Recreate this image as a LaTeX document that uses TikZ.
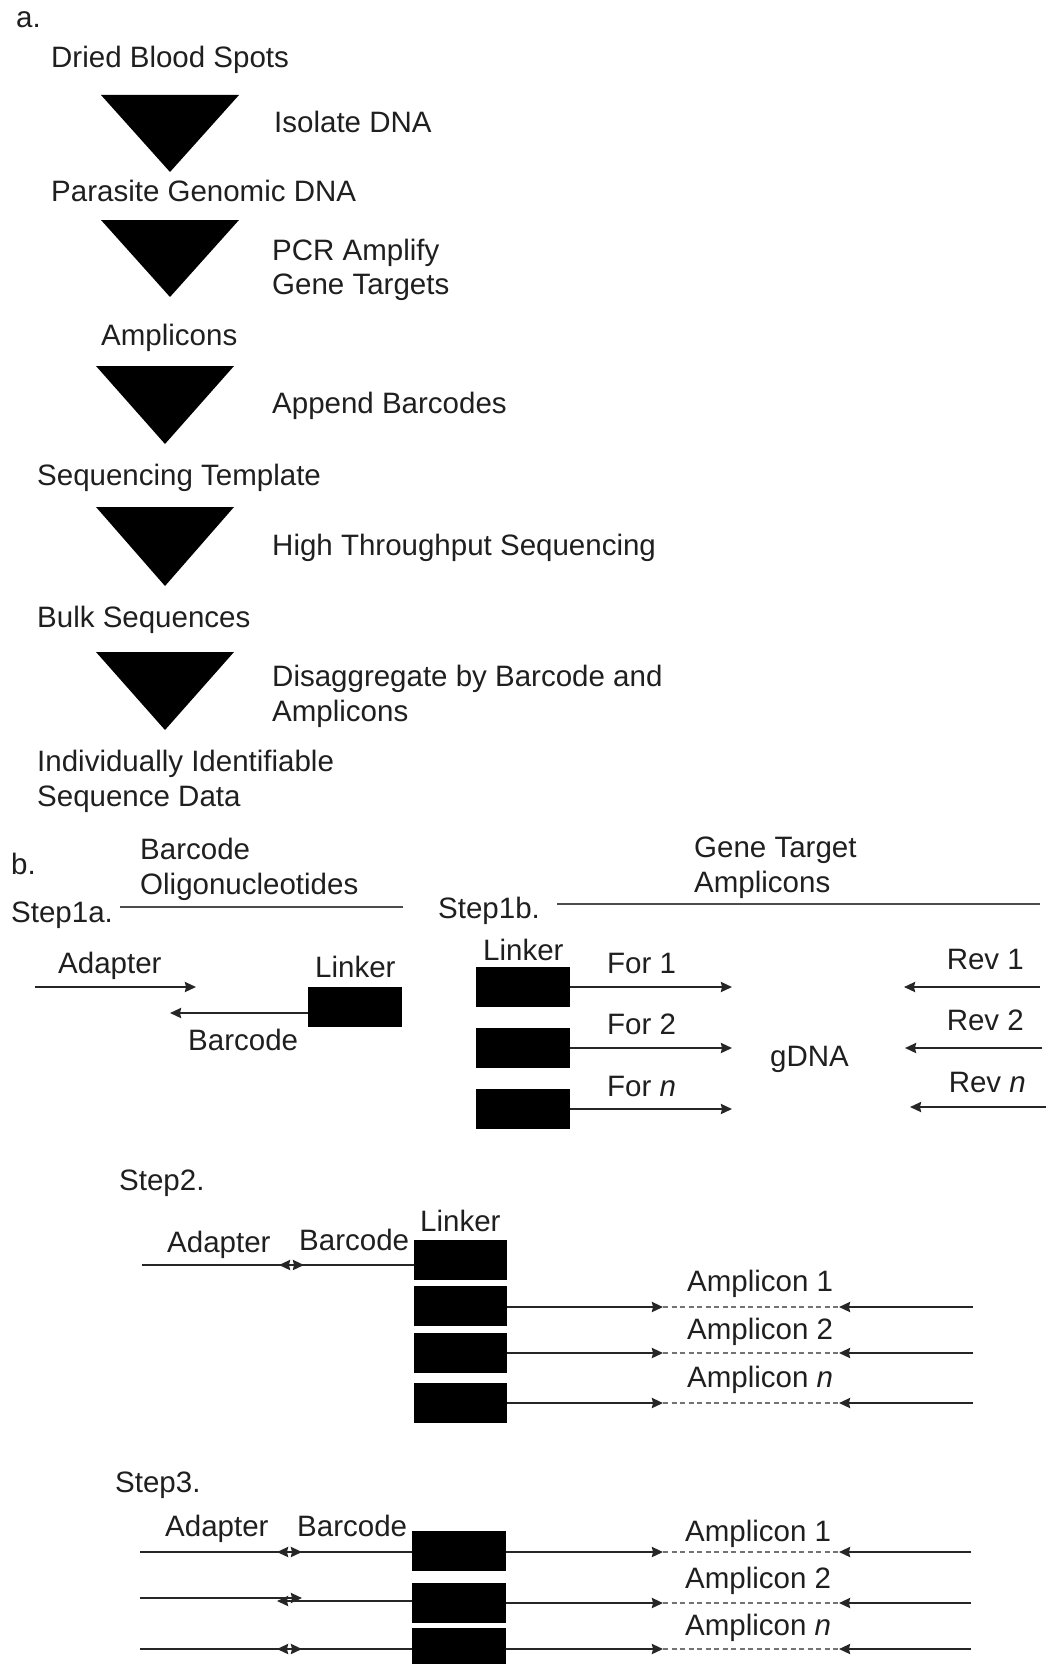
\documentclass[tikz,border=0pt]{standalone}
\usepackage{fontspec}
\setmainfont{Liberation Sans}
\usetikzlibrary{arrows.meta}

\tikzset{
  lbl/.style={anchor=base west, inner sep=0pt, text=black!88,
    font=\fontsize{29.5pt}{35pt}\selectfont},
  rlbl/.style={lbl, anchor=base east},
  blk/.style={fill=black, draw=none, inner sep=0pt, minimum width=94pt, minimum height=40pt},
  strand/.style={line width=2.2pt, draw=black!85},
  gap/.style={line width=1.5pt, draw=black!55, dash pattern=on 5pt off 3.5pt},
  rule/.style={line width=1.8pt, draw=black!70},
  >={Stealth[length=11pt,width=10pt,inset=1pt]}
}

\begin{document}
\begin{tikzpicture}[x=1pt,y=-1pt]
	\useasboundingbox (0,0) rectangle (1053,1664);
	
	% part a
	\node[lbl] (pa) at (16,28) {a.};
	\node[lbl] (dbs) at (51,68) {Dried Blood Spots};
	\fill[black] (101,95) -- (239,95) -- (170,172) -- cycle;
	\node[lbl] (iso) at (274,133) {Isolate DNA};
	\node[lbl] (pgd) at (51,201) {Parasite Genomic DNA};
	\fill[black] (101,220) -- (239,220) -- (170,297) -- cycle;
	\node[lbl] (pcr) at (272,260) {PCR Amplify};
	\node[lbl] (pcr2) at (272,294) {Gene Targets};
	\node[lbl] (amp) at (101,345) {Amplicons};
	\fill[black] (96,366) -- (234,366) -- (165,444) -- cycle;
	\node[lbl] (apb) at (272,413) {Append Barcodes};
	\node[lbl] (sqt) at (37,485) {Sequencing Template};
	\fill[black] (96,507) -- (234,507) -- (165,586) -- cycle;
	\node[lbl] (hts) at (272,555) {High Throughput Sequencing};
	\node[lbl] (bulk) at (37,627) {Bulk Sequences};
	\fill[black] (96,652) -- (234,652) -- (165,730) -- cycle;
	\node[lbl] (dis) at (272,686) {Disaggregate by Barcode and};
	\node[lbl] (dis2) at (272,721) {Amplicons};
	\node[lbl] (isd) at (37,771) {Individually Identifiable};
	\node[lbl] (isd2) at (37,806) {Sequence Data};
	
	% part b, step 1a
	\node[lbl] (pb) at (11,874) {b.};
	\node[lbl] (bo) at (140,859) {Barcode};
	\node[lbl] (bo2) at (140,894) {Oligonucleotides};
	\node[lbl] (s1a) at (11,922) {Step1a.};
	\coordinate (s1aL) at (120,907);
	\coordinate (s1aR) at (403,907);
	\draw[rule] (s1aL) -- (s1aR);
	
	\node[lbl] (ad1) at (58,973) {Adapter};
	\coordinate (ad1L) at (35,987);
	\coordinate (ad1R) at (196,987);
	\draw[strand,->] (ad1L) -- (ad1R);
	\node[lbl] (lk1lbl) at (315,977) {Linker};
	\node[blk] (lk1) at (355,1007) {};
	\coordinate (bc1L) at (170,1013);
	\draw[strand,->] (lk1.west |- bc1L) -- (bc1L);
	\node[lbl] (bc1) at (188,1050) {Barcode};
	
	% step 1b
	\node[lbl] (s1b) at (438,918) {Step1b.};
	\coordinate (s1bL) at (557,904);
	\coordinate (s1bR) at (1040,904);
	\draw[rule] (s1bL) -- (s1bR);
	\node[lbl] (gta) at (694,857) {Gene Target};
	\node[lbl] (gta2) at (694,892) {Amplicons};
	
	\node[lbl] (lk2lbl) at (483,960) {Linker};
	\node[blk] (f1) at (523,987) {};
	\node[blk] (f2) at (523,1048) {};
	\node[blk] (f3) at (523,1109) {};
	\coordinate (f1e) at (732,987);
	\coordinate (f2e) at (732,1048);
	\coordinate (f3e) at (732,1109);
	\draw[strand,->] (f1.east) -- (f1e);
	\draw[strand,->] (f2.east) -- (f2e);
	\draw[strand,->] (f3.east) -- (f3e);
	\node[lbl] (for1) at (607,973) {For 1};
	\node[lbl] (for2) at (607,1034) {For 2};
	\node[lbl] (forn) at (607,1096) {For \textit{n}};
	
	\node[lbl] (gdna) at (770,1066) {gDNA};
	
	\node[rlbl] (rev1) at (1024,969) {Rev 1};
	\node[rlbl] (rev2) at (1024,1030) {Rev 2};
	\node[rlbl] (revn) at (1026,1092) {Rev \textit{n}};
	\coordinate (r1s) at (1040,987);  \coordinate (r1e) at (904,987);
	\coordinate (r2s) at (1042,1048); \coordinate (r2e) at (905,1048);
	\coordinate (r3s) at (1046,1107); \coordinate (r3e) at (910,1107);
	\draw[strand,->] (r1s) -- (r1e);
	\draw[strand,->] (r2s) -- (r2e);
	\draw[strand,->] (r3s) -- (r3e);
	
	% step 2
	\node[lbl] (s2) at (119,1190) {Step2.};
	\node[lbl] (ad2) at (167,1252) {Adapter};
	\node[lbl] (bc2) at (299,1250) {Barcode};
	\node[lbl] (lk3lbl) at (420,1231) {Linker};
	\node[blk, minimum width=93pt] (k20) at (460.5,1259.5) {};
	\node[blk, minimum width=93pt] (k21) at (460.5,1306) {};
	\node[blk, minimum width=93pt] (k22) at (460.5,1353) {};
	\node[blk, minimum width=93pt] (k23) at (460.5,1403) {};
	
	\coordinate (a2L) at (142,1265);
	\coordinate (a2R) at (304,1265);
	\coordinate (b2L) at (279,1265);
	\draw[strand,->] (a2L) -- (a2R);
	\draw[strand,->] (k20.west |- a2R) -- (b2L);
	
	\coordinate (p21) at (663,1307); \coordinate (q21) at (839,1307); \coordinate (e21) at (973,1307);
	\coordinate (p22) at (663,1353); \coordinate (q22) at (839,1353); \coordinate (e22) at (973,1353);
	\coordinate (p23) at (663,1403); \coordinate (q23) at (839,1403); \coordinate (e23) at (973,1403);
	\draw[strand,->] (k21.east |- p21) -- (p21);
	\draw[gap] (p21) -- (q21);
	\draw[strand,->] (e21) -- (q21);
	\draw[strand,->] (k22.east |- p22) -- (p22);
	\draw[gap] (p22) -- (q22);
	\draw[strand,->] (e22) -- (q22);
	\draw[strand,->] (k23.east |- p23) -- (p23);
	\draw[gap] (p23) -- (q23);
	\draw[strand,->] (e23) -- (q23);
	\node[lbl] (am21) at (687,1291) {Amplicon 1};
	\node[lbl] (am22) at (687,1339) {Amplicon 2};
	\node[lbl] (am23) at (687,1387) {Amplicon \textit{n}};
	
	% step 3
	\node[lbl] (s3) at (115,1492) {Step3.};
	\node[lbl] (ad3) at (165,1536) {Adapter};
	\node[lbl] (bc3) at (297,1536) {Barcode};
	\node[blk] (k31) at (459,1551) {};
	\node[blk] (k32) at (459,1602.5) {};
	\node[blk] (k33) at (459,1648) {};
	
	\coordinate (a31L) at (140,1552); \coordinate (a31R) at (302,1552); \coordinate (b31L) at (277,1552);
	\coordinate (a32L) at (140,1598); \coordinate (a32R) at (302,1598); \coordinate (b32L) at (277,1601);
	\coordinate (a33L) at (140,1649); \coordinate (a33R) at (302,1649); \coordinate (b33L) at (277,1649);
	\draw[strand,->] (a31L) -- (a31R);
	\draw[strand,->] (k31.west |- b31L) -- (b31L);
	\draw[strand,->] (a32L) -- (a32R);
	\draw[strand,->] (k32.west |- b32L) -- (b32L);
	\draw[strand,->] (a33L) -- (a33R);
	\draw[strand,->] (k33.west |- b33L) -- (b33L);
	
	\coordinate (p31) at (663,1552); \coordinate (q31) at (839,1552); \coordinate (e31) at (971,1552);
	\coordinate (p32) at (663,1603); \coordinate (q32) at (839,1603); \coordinate (e32) at (971,1603);
	\coordinate (p33) at (663,1649); \coordinate (q33) at (839,1649); \coordinate (e33) at (971,1649);
	\draw[strand,->] (k31.east |- p31) -- (p31);
	\draw[gap] (p31) -- (q31);
	\draw[strand,->] (e31) -- (q31);
	\draw[strand,->] (k32.east |- p32) -- (p32);
	\draw[gap] (p32) -- (q32);
	\draw[strand,->] (e32) -- (q32);
	\draw[strand,->] (k33.east |- p33) -- (p33);
	\draw[gap] (p33) -- (q33);
	\draw[strand,->] (e33) -- (q33);
	\node[lbl] (am31) at (685,1541) {Amplicon 1};
	\node[lbl] (am32) at (685,1588) {Amplicon 2};
	\node[lbl] (am33) at (685,1635) {Amplicon \textit{n}};
	
\end{tikzpicture}
\end{document}
